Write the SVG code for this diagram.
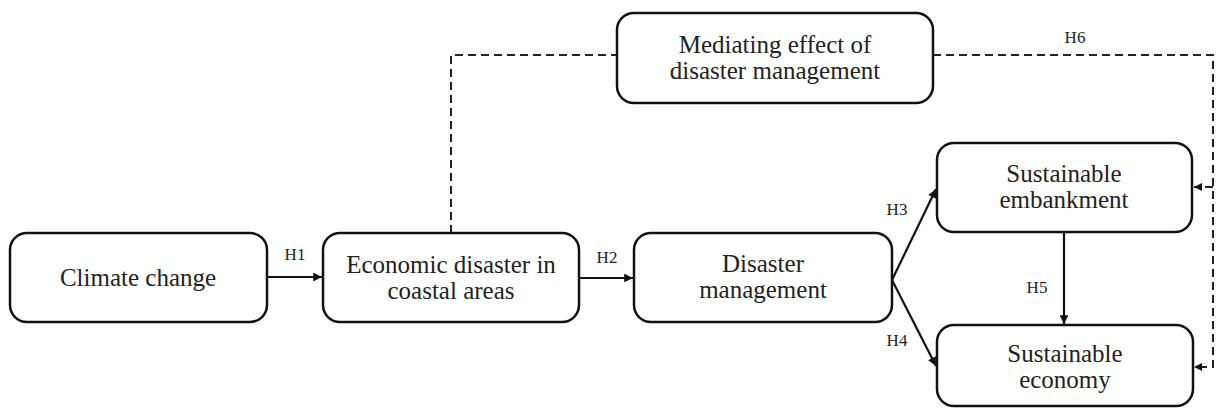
<svg xmlns="http://www.w3.org/2000/svg" width="1218" height="409" viewBox="0 0 1218 409">
<style>
.box{fill:#fff;stroke:#111;stroke-width:2.5}
.t{font-family:"Liberation Serif","Times New Roman",serif;font-size:25px;fill:#222;text-anchor:middle}
.h{font-family:"Liberation Serif","Times New Roman",serif;font-size:17px;fill:#222;text-anchor:middle}
.c{stroke:#111;stroke-width:2.2;fill:none}
.d{stroke:#222;stroke-width:2;fill:none;stroke-dasharray:8 5}
</style>
<defs>
<marker id="ah" viewBox="0 0 10 10" refX="10" refY="5" markerWidth="4" markerHeight="4" orient="auto" markerUnits="strokeWidth">
<path d="M0,0 L10,5 L0,10 z" fill="#111"/>
</marker>
</defs>
<rect width="1218" height="409" fill="#fff"/>
<g id="connectors">
<line class="c" x1="267" y1="277" x2="322" y2="277" marker-end="url(#ah)"/>
<line class="c" x1="579" y1="278" x2="633" y2="278" marker-end="url(#ah)"/>
<line class="c" x1="892" y1="280" x2="936" y2="189" marker-end="url(#ah)"/>
<line class="c" x1="892" y1="280" x2="936" y2="366" marker-end="url(#ah)"/>
<line class="c" x1="1064" y1="232" x2="1064" y2="324" marker-end="url(#ah)"/>
<polyline class="d" points="451,233 451,55 617,55"/>
<polyline class="d" points="933,55 1213,55 1213,367 1194,367" marker-end="url(#ah)"/>
<line class="d" x1="1213" y1="187" x2="1194" y2="187" marker-end="url(#ah)"/>
<text class="h" x="295" y="260">H1</text>
<text class="h" x="607" y="263">H2</text>
<text class="h" x="897" y="215">H3</text>
<text class="h" x="897" y="346">H4</text>
<text class="h" x="1037" y="293">H5</text>
<text class="h" x="1075" y="43">H6</text>
</g>
<g id="climate">
<rect class="box" x="10" y="233" width="257" height="89" rx="17"/>
<text class="t" x="138" y="286">Climate change</text>
</g>
<g id="economic">
<rect class="box" x="323" y="233" width="256" height="89" rx="17"/>
<text class="t" x="451" y="273">Economic disaster in</text>
<text class="t" x="451" y="299">coastal areas</text>
</g>
<g id="disaster">
<rect class="box" x="634" y="233" width="258" height="89" rx="17"/>
<text class="t" x="763" y="272">Disaster</text>
<text class="t" x="763" y="298">management</text>
</g>
<g id="mediating">
<rect class="box" x="617" y="13" width="316" height="90" rx="17"/>
<text class="t" x="775" y="53">Mediating effect of</text>
<text class="t" x="775" y="79">disaster management</text>
</g>
<g id="embankment">
<rect class="box" x="937" y="143" width="255" height="89" rx="17"/>
<text class="t" x="1064" y="182">Sustainable</text>
<text class="t" x="1064" y="208">embankment</text>
</g>
<g id="economy">
<rect class="box" x="937" y="325" width="256" height="81" rx="17"/>
<text class="t" x="1065" y="362">Sustainable</text>
<text class="t" x="1065" y="388">economy</text>
</g>
</svg>
